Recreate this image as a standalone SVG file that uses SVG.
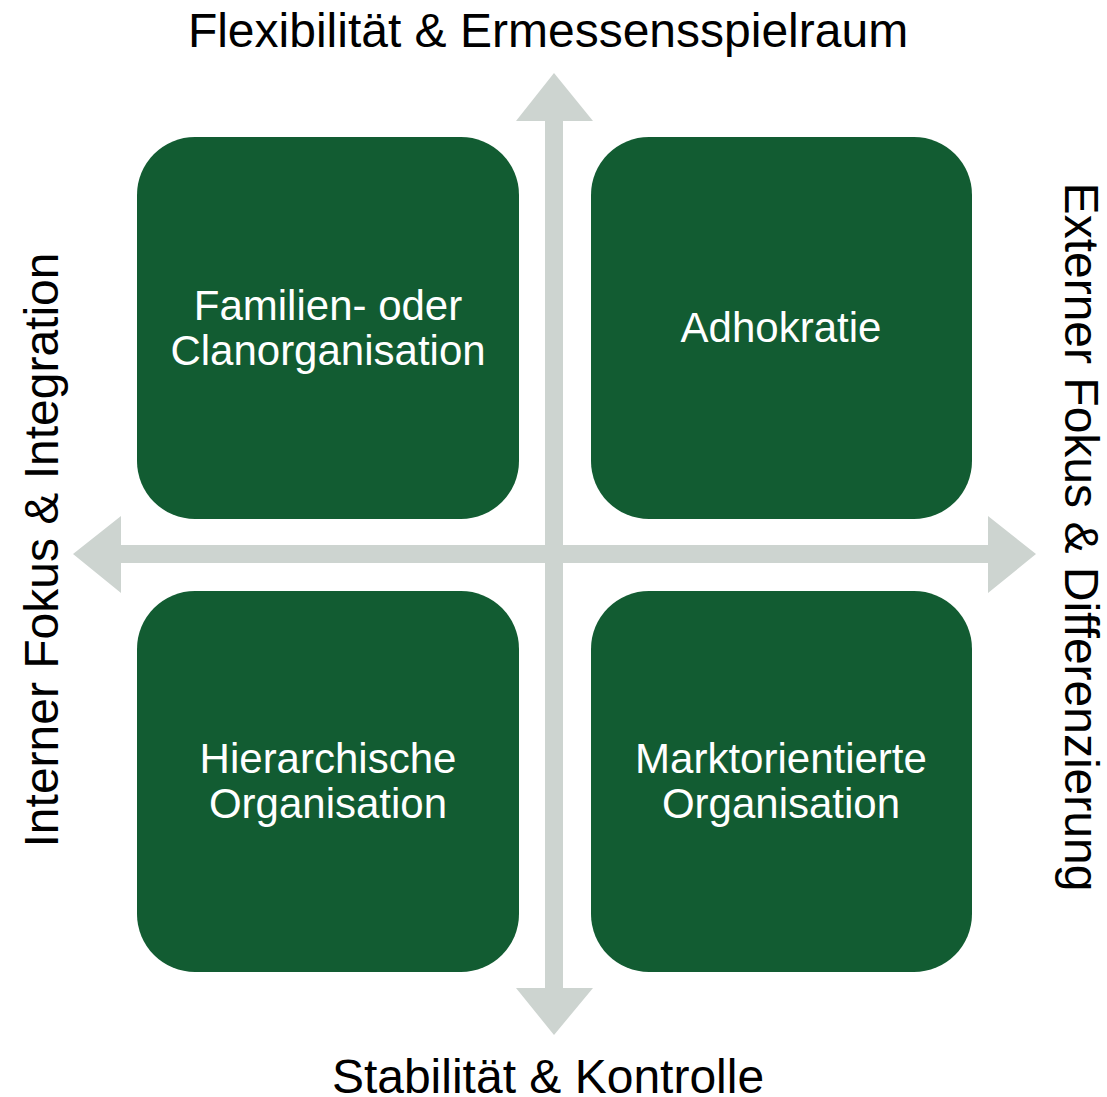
<svg xmlns="http://www.w3.org/2000/svg" width="1107" height="1097" viewBox="0 0 1107 1097">
<style>
.box{fill:#125C32}
.arrow{fill:#CDD4D0}
.lbl{font-family:"Liberation Sans",Arial,sans-serif;font-size:48px;fill:#000;text-anchor:middle}
.btxt{font-family:"Liberation Sans",Arial,sans-serif;font-size:42px;fill:#fff;text-anchor:middle}
</style>
<rect width="1107" height="1097" fill="#fff"/>
<g id="connectors">
<polygon class="arrow" points="554,73 593,121 563,121 563,988 593,988 554,1035 516,988 545,988 545,121 516,121"/>
<polygon class="arrow" points="73,554 121,516 121,545 988,545 988,516 1036,554 988,593 988,563 121,563 121,593"/>
</g>
<g id="clan">
<rect class="box" x="137" y="137" width="382" height="382" rx="58"/>
<text class="btxt" x="328" y="320">Familien- oder</text>
<text class="btxt" x="328" y="365">Clanorganisation</text>
</g>
<g id="adhokratie">
<rect class="box" x="591" y="137" width="381" height="382" rx="58"/>
<text class="btxt" x="781" y="342">Adhokratie</text>
</g>
<g id="hierarchie">
<rect class="box" x="137" y="591" width="382" height="381" rx="58"/>
<text class="btxt" x="328" y="773">Hierarchische</text>
<text class="btxt" x="328" y="818">Organisation</text>
</g>
<g id="markt">
<rect class="box" x="591" y="591" width="381" height="381" rx="58"/>
<text class="btxt" x="781" y="773">Marktorientierte</text>
<text class="btxt" x="781" y="818">Organisation</text>
</g>
<g id="labels">
<text class="lbl" x="548" y="47">Flexibilität &amp; Ermessensspielraum</text>
<text class="lbl" x="548" y="1093">Stabilität &amp; Kontrolle</text>
<text class="lbl" transform="translate(58,550) rotate(-90)">Interner Fokus &amp; Integration</text>
<text class="lbl" transform="translate(1065,537) rotate(90)">Externer Fokus &amp; Differenzierung</text>
</g>
</svg>
